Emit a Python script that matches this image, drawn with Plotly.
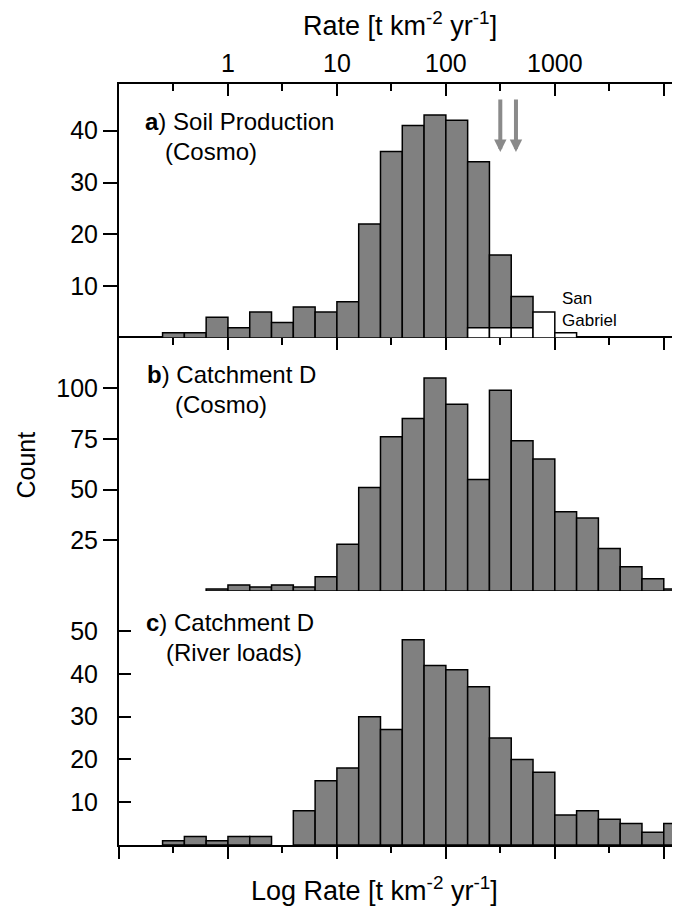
import math
import plotly.graph_objects as go

# Bin centres in log10(rate) units (bin width 0.2)
log_rate_bins = [-0.5, -0.3, -0.1, 0.1, 0.3, 0.5, 0.7, 0.9, 1.1, 1.3, 1.5, 1.7,
                 1.9, 2.1, 2.3, 2.5, 2.7, 2.9, 3.1, 3.3, 3.5, 3.7, 3.9, 4.1]

soil_production = [1, 1, 4, 2, 5, 3, 6, 5, 7, 22, 36, 41,
                   43, 42, 34, 16, 8, 0, 0, 0, 0, 0, 0, 0]
san_gabriel = [0, 0, 0, 0, 0, 0, 0, 0, 0, 0, 0, 0,
               0, 0, 2, 2, 2, 5, 1, 0, 0, 0, 0, 0]
catchment_cosmo = [0, 0, 1, 3, 2, 3, 2, 7, 23, 51, 76, 85,
                   105, 92, 55, 99, 74, 65, 39, 36, 21, 12, 6, 1]
river_loads = [1, 2, 1, 2, 2, 0, 8, 15, 18, 30, 27, 48,
               42, 41, 37, 25, 20, 17, 7, 8, 6, 5, 3, 5]

arrow_rates = [316, 440]  # t km-2 yr-1

top_tick_vals = [0, 1, 2, 3, 4]
top_tick_text = ["1", "10", "100", "1000", " "]
minor_vals = [-0.5, 0.5, 1.5, 2.5, 3.5]

ticks_a = [10, 20, 30, 40]
ticks_b = [25, 50, 75, 100]
ticks_c = [10, 20, 30, 40, 50]


def nz(vals):
    return [v if v else None for v in vals]


FONT = "Liberation Sans, Arial, sans-serif"
GRAY = "#808080"
fig = go.Figure()

bar_line = dict(color="black", width=1.5)
fig.add_trace(go.Bar(x=log_rate_bins, y=nz(river_loads), xaxis="x", yaxis="y", width=0.2,
                     marker=dict(color=GRAY, line=bar_line)))
fig.add_trace(go.Bar(x=log_rate_bins, y=nz(catchment_cosmo), xaxis="x2", yaxis="y2", width=0.2,
                     marker=dict(color=GRAY, line=bar_line)))
fig.add_trace(go.Bar(x=log_rate_bins, y=nz(soil_production), xaxis="x3", yaxis="y3", width=0.2,
                     marker=dict(color=GRAY, line=bar_line)))
fig.add_trace(go.Bar(x=log_rate_bins, y=nz(san_gabriel), xaxis="x3", yaxis="y3", width=0.2,
                     marker=dict(color="white", line=bar_line)))

XR = [-1, 4.149]
dc = [0, 0.3338]
db = [0.3338, 0.6662]
da = [0.6662, 1]
RA = [0, 49]
RB = [0, 124.7]
RC = [0, 59.4]


def xbase(**kw):
    d = dict(range=XR, showgrid=False, zeroline=False, showline=True, linecolor="black",
             linewidth=2, tickcolor="black", tickwidth=2, tickmode="array",
             tickvals=[-1] + top_tick_vals, fixedrange=True, automargin=False)
    d.update(kw)
    return d


def minor(ticks, ln):
    return dict(tickmode="array", tickvals=minor_vals, ticks=ticks, ticklen=ln,
                tickcolor="black", tickwidth=2)


def ybase(**kw):
    d = dict(showgrid=False, zeroline=False, showline=True, linecolor="black", linewidth=2,
             tickwidth=2, tickcolor="black", tickmode="array", tickfont=dict(size=25),
             fixedrange=True, automargin=False)
    d.update(kw)
    return d


# The page body adds an 8px offset, so the figure is 8px smaller than the window.
layout = dict(
    width=672, height=898,
    margin=dict(l=111, r=0, t=76, b=61, autoexpand=False),
    plot_bgcolor="white", paper_bgcolor="white",
    showlegend=False, barmode="overlay",
    font=dict(family=FONT, color="black", size=25),
    xaxis=xbase(anchor="y", side="bottom", ticks="outside", ticklen=12,
                showticklabels=False, minor=minor("outside", 6)),
    xaxis2=xbase(anchor="y2", side="top", ticks="inside", ticklen=12,
                 showticklabels=False, minor=minor("inside", 7)),
    xaxis3=xbase(anchor="y3", side="top", ticks="inside", ticklen=12,
                 ticktext=[" "] + top_tick_text, showticklabels=True,
                 tickfont=dict(size=25), minor=minor("inside", 7)),
    xaxis4=xbase(anchor="y", overlaying="x", side="top", ticks="inside", ticklen=12,
                 showticklabels=False, minor=minor("inside", 7)),
    yaxis=ybase(domain=dc, range=RC, anchor="x", ticks="inside", ticklen=12,
                tickvals=ticks_c, ticklabelstandoff=14),
    yaxis2=ybase(domain=db, range=RB, anchor="x2", ticks="outside", ticklen=14,
                 tickvals=ticks_b),
    yaxis3=ybase(domain=da, range=RA, anchor="x3", ticks="outside", ticklen=14,
                 tickvals=ticks_a),
)
for name, base, xa, tv, rg in [("yaxis4", "y", "x", ticks_c, RC),
                               ("yaxis5", "y2", "x2", ticks_b, RB),
                               ("yaxis6", "y3", "x3", ticks_a, RA)]:
    layout[name] = dict(overlaying=base, side="right", anchor=xa, showgrid=False,
                        zeroline=False, showline=False, ticks="inside", ticklen=8,
                        tickwidth=2, tickcolor="black", tickmode="array", tickvals=tv,
                        showticklabels=False, range=rg, fixedrange=True, automargin=False)
fig.update_layout(**layout)

ann = []


def label(x, y, xr, yr, text, size=24):
    ann.append(dict(x=x, y=y, xref=xr, yref=yr, text=text, showarrow=False,
                    xanchor="left", yanchor="middle", font=dict(size=size, family=FONT)))


label(-0.78, 41.7, "x3", "y3", "<b>a</b>) Soil Production")
label(-0.593, 35.9, "x3", "y3", "(Cosmo)")
label(-0.761, 106.5, "x2", "y2", "<b>b</b>) Catchment D")
label(-0.507, 91.7, "x2", "y2", "(Cosmo)")
label(-0.771, 52.0, "x", "y", "<b>c</b>) Catchment D")
label(-0.587, 45.0, "x", "y", "(River loads)")

ann.append(dict(x=3.048, y=5.5, xref="x3", yref="y3", text="San<br>Gabriel", showarrow=False,
                xanchor="left", yanchor="middle", align="left", font=dict(size=17, family=FONT)))

for r in arrow_rates:
    lx = math.log10(r)
    ann.append(dict(x=lx, y=35.9, xref="x3", yref="y3", ax=lx, ay=49, axref="x3", ayref="y3",
                    showarrow=True, arrowhead=2, arrowwidth=4, arrowsize=0.62,
                    arrowcolor="#8a8a8a", text=" "))

ann.append(dict(x=0.501, y=1.079, xref="paper", yref="paper", showarrow=False,
                text="Rate [t km<sup>-2</sup> yr<sup>-1</sup>]", xanchor="center",
                yanchor="middle", font=dict(size=27, family=FONT)))
ann.append(dict(x=(374 - 119) / 561, y=-0.058, xref="paper", yref="paper", showarrow=False,
                text="Log Rate [t km<sup>-2</sup> yr<sup>-1</sup>]", xanchor="center",
                yanchor="middle", font=dict(size=27, family=FONT)))
ann.append(dict(x=(25 - 119) / 561, y=0.5, xref="paper", yref="paper", showarrow=False,
                text="Count", textangle=-90, xanchor="center", yanchor="middle",
                font=dict(size=25, family=FONT)))
fig.update_layout(annotations=ann)

fig.write_html("out.html")
